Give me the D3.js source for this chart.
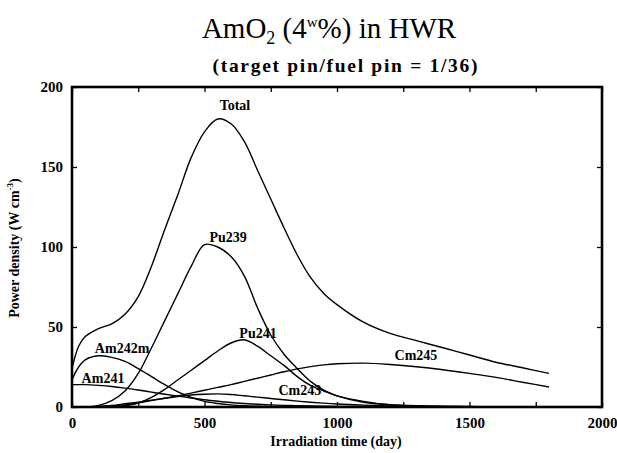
<!DOCTYPE html>
<meta charset="utf-8">
<script src="https://d3js.org/d3.v7.min.js"></script>
<style>
  body { margin: 0; background: #fff; }
  text { font-family: "Liberation Serif", "Times New Roman", serif; fill: #000; }
</style>
<div id="my_dataviz"></div>
<script>

// irradiation time (day) shared by every series
var days = [0, 25, 50, 100, 150, 200, 250, 300, 350, 400, 450, 500, 550, 600, 650, 700,
            750, 800, 850, 900, 950, 1000, 1100, 1200, 1300, 1400, 1500, 1600, 1700, 1800];

// power density (W cm-3)
var total  = [24, 38, 44, 49, 52, 58, 69, 88, 111, 133, 156, 172, 180, 177, 166, 148,
              130, 112, 95, 81, 71, 64, 53, 46, 41.5, 37, 32.5, 28, 24.5, 21];
var pu239  = [0, 0, 0, 1, 4, 10, 21, 37, 54, 71, 88, 101.5, 100, 94, 82, 62,
              45, 33, 24, 16, 10.5, 7, 3, 1.5, 0.8, 0.5, 0.3, 0.2, 0.1, 0.1];
var pu241  = [0, 0, 0, 0, 0.2, 0.8, 2.5, 6, 11, 17, 23, 29, 35, 40, 42, 38,
              32, 26, 19, 13.5, 10, 7, 3.5, 1.3, 0.6, 0.3, 0.2, 0.1, 0.1, 0.1];
var cm245  = [0, 0, 0, 0.2, 0.6, 1.3, 2.5, 4, 5.5, 7, 8.7, 10.5, 12.3, 14, 16, 18,
              20, 22, 23.8, 25.2, 26.3, 27, 27.4, 26.6, 25.2, 23.3, 21, 18.5, 15.5, 12.5];
var cm243  = [0, 0, 0.1, 0.4, 1, 2, 3, 4.3, 5.5, 6.6, 7.5, 8, 8.2, 7.8, 7, 6.2,
              5.3, 4.5, 3.7, 3, 2.4, 1.9, 1.2, 0.7, 0.4, 0.2, 0.1, 0.1, 0.1, 0.1];
var am242m = [17, 25, 29.5, 32, 31, 28.5, 24, 19, 14, 9.5, 6, 3.5, 2.2, 1.3, 0.8, 0.5,
              0.3, 0.2, 0.1, 0.1, 0.1, 0.1, 0, 0, 0, 0, 0, 0, 0, 0];
var am241  = [14, 14, 14, 13.5, 12.8, 11.8, 10.6, 9.3, 8, 6.8, 5.6, 4.5, 3.6, 2.8, 2.2, 1.7,
              1.3, 1, 0.8, 0.6, 0.5, 0.4, 0.3, 0.2, 0.1, 0.1, 0.1, 0, 0, 0];

var seriesNames = ["Total", "Pu239", "Pu241", "Cm245", "Cm243", "Am242m", "Am241"];
var seriesValues = [total, pu239, pu241, cm245, cm243, am242m, am241];

// where each curve name sits, in data units (day, W cm-3)
var labelDay   = [615, 589, 702, 1298, 860, 189, 117];
var labelPower = [185.5, 103, 43, 29.4, 7.5, 33.8, 15];

var xTicks = [0, 500, 1000, 1500, 2000];
var yTicks = [0, 50, 100, 150, 200];

// set the dimensions and margins of the graph
var margin = { top: 87, right: 15, bottom: 46, left: 72 },
    width = 617 - margin.left - margin.right,
    height = 453 - margin.top - margin.bottom;

var root = d3.select("#my_dataviz")
    .append("svg")
    .attr("width", 617)
    .attr("height", 453);

// title with sub / superscript
var title = root.append("text")
    .attr("x", 329).attr("y", 38)
    .attr("text-anchor", "middle")
    .style("font-size", "29px");
title.append("tspan").text("AmO");
title.append("tspan").attr("dy", 6).style("font-size", "18px").text("2");
title.append("tspan").attr("dy", -6).text("\u00a0(4");
title.append("tspan").attr("dy", -11).style("font-size", "15px").text("w");
title.append("tspan").attr("dy", 11).text("%) in HWR");

root.append("text")
    .attr("x", 345).attr("y", 72)
    .attr("text-anchor", "middle")
    .attr("textLength", 265)
    .attr("lengthAdjust", "spacing")
    .style("font-size", "19.5px").style("font-weight", "bold")
    .text("(target pin/fuel pin = 1/36)");

var svg = root.append("g")
    .attr("transform", "translate(" + margin.left + "," + margin.top + ")");

var x = d3.scaleLinear().domain([0, 2000]).range([0, width]);
var y = d3.scaleLinear().domain([0, 200]).range([height, 0]);

// inward ticks on all four sides
var minorX = d3.range(0, 2001, 250);
var minorY = d3.range(0, 201, 50);
svg.append("g")
    .attr("transform", "translate(0," + height + ")")
    .call(d3.axisTop(x).tickValues(minorX).tickSize(5).tickFormat(""));
svg.append("g")
    .call(d3.axisBottom(x).tickValues(minorX).tickSize(5).tickFormat(""));
svg.append("g")
    .call(d3.axisRight(y).tickValues(minorY).tickSize(5).tickFormat(""));
svg.append("g")
    .attr("transform", "translate(" + width + ",0)")
    .call(d3.axisLeft(y).tickValues(minorY).tickSize(5).tickFormat(""));
svg.selectAll(".domain").remove();
svg.selectAll(".tick line").attr("stroke", "#000").attr("stroke-width", 1.3);

// tick labels
svg.append("g")
    .attr("transform", "translate(0," + height + ")")
    .call(d3.axisBottom(x).tickValues(xTicks).tickSize(0).tickPadding(10).tickFormat(d3.format("d")))
    .call(function (g) { g.select(".domain").remove(); })
    .selectAll("text")
    .style("font-size", "15px").style("font-weight", "bold")
    .style("font-family", "Liberation Serif, serif");
svg.append("g")
    .call(d3.axisLeft(y).tickValues(yTicks).tickSize(0).tickPadding(9).tickFormat(d3.format("d")))
    .call(function (g) { g.select(".domain").remove(); })
    .selectAll("text")
    .style("font-size", "15px").style("font-weight", "bold")
    .style("font-family", "Liberation Serif, serif");

// frame
svg.append("rect")
    .attr("x", 0).attr("y", 0)
    .attr("width", width).attr("height", height)
    .attr("fill", "none")
    .attr("stroke", "#000")
    .attr("stroke-width", 2.6);

// axis titles
root.append("text")
    .attr("x", 336).attr("y", 446)
    .attr("text-anchor", "middle")
    .style("font-size", "14px").style("font-weight", "bold")
    .text("Irradiation time (day)");

var yt = root.append("text")
    .attr("transform", "translate(19,248) rotate(-90)")
    .attr("text-anchor", "middle")
    .style("font-size", "14px").style("font-weight", "bold");
yt.append("tspan").text("Power density (W cm");
yt.append("tspan").attr("dy", -6).style("font-size", "9px").text("-3");
yt.append("tspan").attr("dy", 6).text(")");

// the curves
var line = d3.line()
    .curve(d3.curveCatmullRom.alpha(0.5))
    .x(function (d, i) { return x(days[i]); })
    .y(function (d) { return y(d); });

svg.selectAll("path.curve")
    .data(seriesValues)
    .enter()
    .append("path")
    .attr("class", "curve")
    .attr("fill", "none")
    .attr("stroke", "#000")
    .attr("stroke-width", 1.4)
    .attr("d", line);

svg.selectAll("text.lab")
    .data(seriesNames)
    .enter()
    .append("text")
    .attr("class", "lab")
    .attr("x", function (d, i) { return x(labelDay[i]); })
    .attr("y", function (d, i) { return y(labelPower[i]); })
    .attr("text-anchor", "middle")
    .style("font-size", "14px").style("font-weight", "bold")
    .text(function (d) { return d; });

</script>
